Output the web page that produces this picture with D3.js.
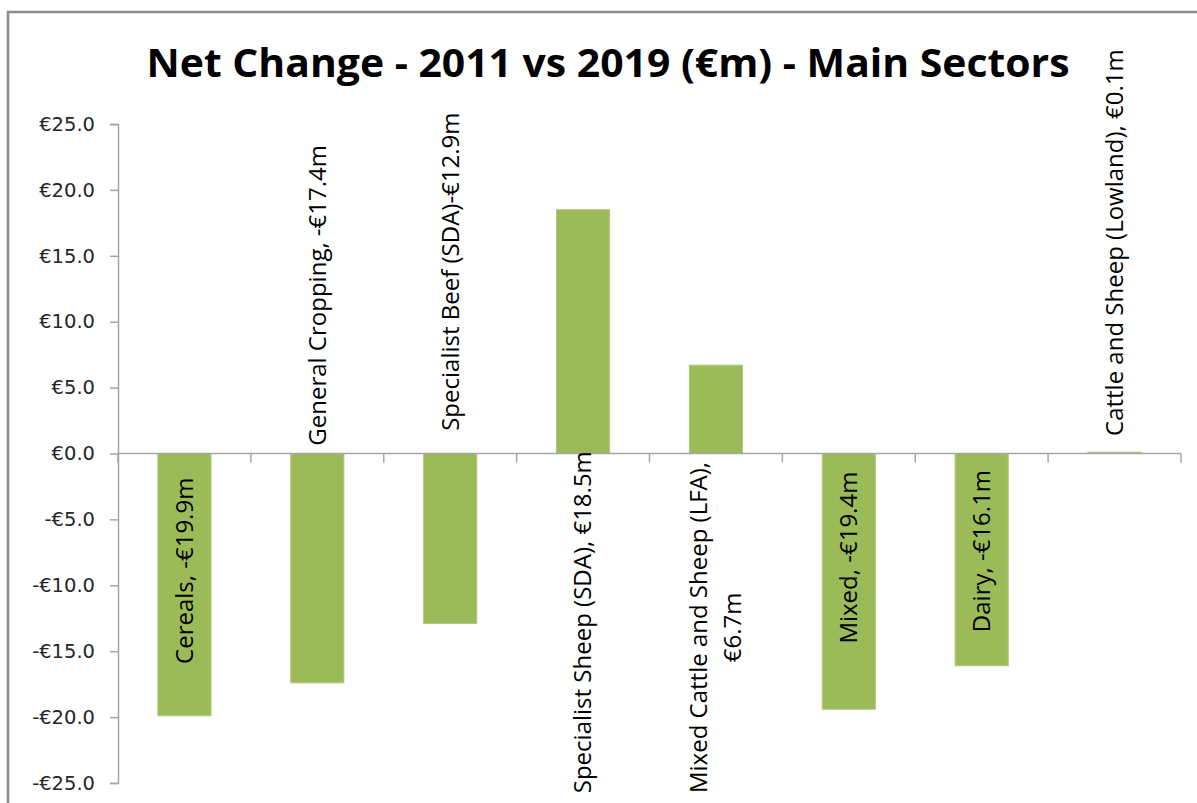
<!DOCTYPE html>
<html>
<head>
<meta charset="utf-8">
<script src="https://cdn.jsdelivr.net/npm/d3@7"></script>
<style>
  body { margin: 0; background: #fff; }
  svg { display: block; }
  .y-axis text { font-family: "DejaVu Sans", sans-serif; font-size: 19.5px; fill: #262626; }
  .y-axis path, .y-axis line { stroke: #a6a6a6; stroke-width: 1.5; }
  .bar-label { font-family: "Open Sans", sans-serif; font-size: 24px; fill: #000; }
</style>
</head>
<body>
<svg id="chart"></svg>
<script>
// data
const sectors = ["Cereals", "General Cropping", "Specialist Beef (SDA)", "Specialist Sheep (SDA)",
  "Mixed Cattle and Sheep (LFA)", "Mixed", "Dairy", "Cattle and Sheep (Lowland)"];
const netChange = [-19.9, -17.4, -12.9, 18.5, 6.7, -19.4, -16.1, 0.1];
const labelLines = [
  ["Cereals, -€19.9m"],
  ["General Cropping, -€17.4m"],
  ["Specialist Beef (SDA)-€12.9m"],
  ["Specialist Sheep (SDA), €18.5m"],
  ["Mixed Cattle and Sheep (LFA),", "€6.7m"],
  ["Mixed, -€19.4m"],
  ["Dairy, -€16.1m"],
  ["Cattle and Sheep (Lowland), €0.1m"]
];
const yTicks = [-25, -20, -15, -10, -5, 0, 5, 10, 15, 20, 25];

// where each (manually placed) label is centred, in €m along the value axis
const labelAt = [-8.9, 12.0, 13.8, -12.8, -13.2, -7.9, -7.4, 16.0];

const W = 1197, H = 803;
const margin = {top: 124, right: 16, bottom: 20, left: 118};

const svg = d3.select("#chart").attr("width", W).attr("height", H);

// outer chart frame
svg.append("rect")
  .attr("x", 8).attr("y", 12)
  .attr("width", W + 20).attr("height", H + 20)
  .attr("fill", "none").attr("stroke", "#8c8c8c").attr("stroke-width", 2.5);

svg.append("text")
  .attr("x", 608).attr("y", 77)
  .attr("text-anchor", "middle")
  .attr("textLength", 923).attr("lengthAdjust", "spacingAndGlyphs")
  .style("font-family", "'Open Sans', sans-serif")
  .style("font-weight", 700).style("font-size", "39px")
  .text("Net Change - 2011 vs 2019 (€m) - Main Sectors");

const x = d3.scaleBand()
  .domain(sectors)
  .range([margin.left, W - margin.right])
  .paddingInner(0.6)
  .paddingOuter(0.3);

const y = d3.scaleLinear()
  .domain([-25, 25])
  .range([H - margin.bottom, margin.top]);

const fmt = v => (v < 0 ? "-" : "") + "€" + Math.abs(v).toFixed(1);

// y axis
svg.append("g")
  .attr("class", "y-axis")
  .attr("transform", `translate(${margin.left},0)`)
  .call(d3.axisLeft(y).tickValues(yTicks).tickFormat(fmt).tickSize(8).tickPadding(15));

// bars
svg.append("g").selectAll("rect")
  .data(netChange)
  .join("rect")
  .attr("x", (d, i) => x(sectors[i]))
  .attr("width", x.bandwidth())
  .attr("y", d => y(Math.max(0, d)))
  .attr("height", d => Math.abs(y(d) - y(0)))
  .attr("fill", "#9bbb59")
  .attr("stroke", "#afc97a").attr("stroke-width", 1);

// category axis at zero with boundary ticks
const bounds = sectors.map(s => x(s) - x.bandwidth() * 0.75).concat([x.range()[1]]);
const xAxisG = svg.append("g").attr("transform", `translate(0,${y(0)})`);
xAxisG.append("line")
  .attr("x1", margin.left).attr("x2", x.range()[1])
  .attr("stroke", "#a6a6a6").attr("stroke-width", 1.5);
xAxisG.selectAll(".tick")
  .data(bounds)
  .join("line")
  .attr("x1", d => d).attr("x2", d => d)
  .attr("y1", 0).attr("y2", 9)
  .attr("stroke", "#a6a6a6").attr("stroke-width", 1.5);

// rotated data labels
const lineGap = 34;
const labels = svg.append("g").selectAll("g")
  .data(labelLines)
  .join("g")
  .attr("transform", (d, i) => `translate(${x(sectors[i]) + x.bandwidth() / 2},${y(labelAt[i])}) rotate(-90)`);

labels.append("text")
  .attr("class", "bar-label")
  .attr("text-anchor", "middle")
  .selectAll("tspan")
  .data(d => d.map((t, j) => ({t, j, n: d.length})))
  .join("tspan")
  .attr("x", 0)
  .attr("y", d => (d.j - (d.n - 1) / 2) * lineGap)
  .attr("dy", "0.35em")
  .text(d => d.t);
</script>
</body>
</html>
